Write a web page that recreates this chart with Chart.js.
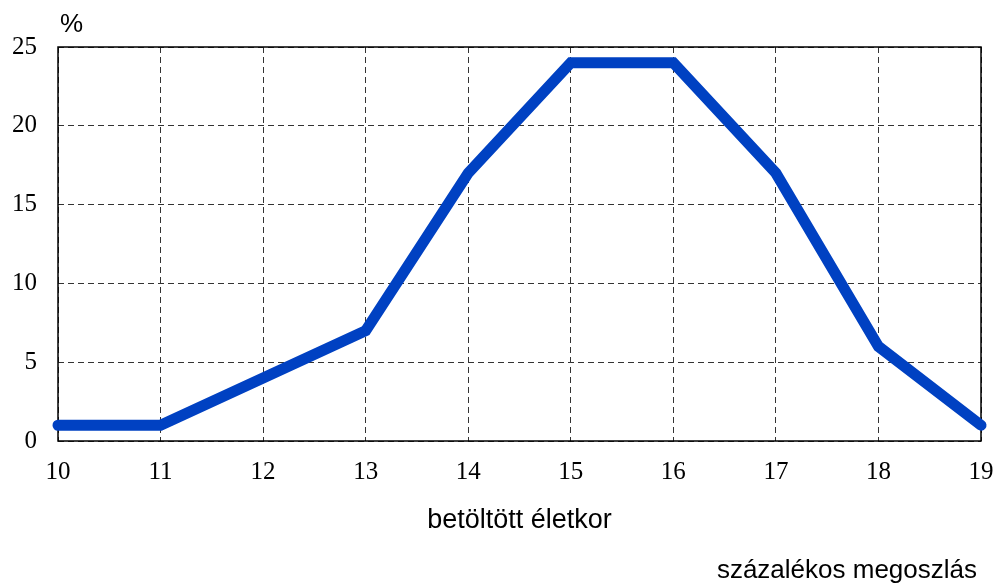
<!DOCTYPE html>
<html>
<head>
<meta charset="utf-8">
<script src="https://cdn.jsdelivr.net/npm/chart.js@4/dist/chart.umd.min.js"></script>
<style>
  html, body { margin: 0; padding: 0; background: #fff; }
  #wrap { width: 995px; height: 585px; }
</style>
</head>
<body>
<div id="wrap"><canvas id="c" width="995" height="585"></canvas></div>
<script>
// betöltött életkor -> százalékos megoszlás
const ages = ['10', '11', '12', '13', '14', '15', '16', '17', '18', '19'];
const shares = [1, 1, 4, 7, 17, 24, 24, 17, 6, 1];
const yTicks = [0, 5, 10, 15, 20, 25];

const SERIF = "'Liberation Serif', 'DejaVu Serif', serif";
const SANS = "'Liberation Sans', Arial, sans-serif";

// frame around the plot + loose texts
const frame = {
  id: 'frame',
  beforeDatasetsDraw(chart) {
    const { ctx, chartArea: a } = chart;
    ctx.save();
    ctx.strokeStyle = '#000';
    ctx.lineWidth = 1.5;
    ctx.strokeRect(a.left, a.top, a.right - a.left, a.bottom - a.top);
    ctx.restore();
  },
  afterDraw(chart) {
    const { ctx, chartArea: a } = chart;
    ctx.save();
    ctx.fillStyle = '#000';
    ctx.textBaseline = 'alphabetic';
    ctx.font = '26px ' + SANS;
    ctx.textAlign = 'left';
    ctx.fillText('%', 60, 32);
    ctx.font = '27px ' + SANS;
    ctx.textAlign = 'center';
    ctx.fillText('betöltött életkor', (a.left + a.right) / 2, 528);
    ctx.font = '26px ' + SANS;
    ctx.textAlign = 'right';
    ctx.fillText('százalékos megoszlás', 977, 578);
    ctx.restore();
  }
};

new Chart(document.getElementById('c'), {
  type: 'line',
  data: {
    labels: ages,
    datasets: [{
      data: shares,
      borderColor: '#0041c2',
      borderWidth: 11,
      borderCapStyle: 'round',
      borderJoinStyle: 'miter',
      pointRadius: 0,
      tension: 0,
      clip: false,
    }]
  },
  plugins: [frame],
  options: {
    responsive: false,
    animation: false,
    layout: { padding: { top: 47, right: 14, left: 0, bottom: 0 } },
    plugins: {
      legend: { display: false },
      tooltip: { enabled: false },
    },
    scales: {
      x: {
        type: 'category',
        offset: false,
        afterFit: (s) => { s.height = 144; s.paddingLeft = 0; s.paddingRight = 0; },
        grid: { color: '#333', lineWidth: 1, drawTicks: false },
        border: { display: false, dash: [6, 4] },
        ticks: {
          font: { size: 25, family: SERIF },
          color: '#000',
          padding: 16,
          maxRotation: 0,
        }
      },
      y: {
        min: 0,
        max: 25,
        afterFit: (s) => { s.width = 58; },
        afterBuildTicks: (s) => { s.ticks = yTicks.map(v => ({ value: v })); },
        grid: { color: '#333', lineWidth: 1, drawTicks: false },
        border: { display: false, dash: [6, 4] },
        ticks: {
          font: { size: 25, family: SERIF },
          color: '#000',
          padding: 21,
        }
      }
    }
  }
});
</script>
</body>
</html>
